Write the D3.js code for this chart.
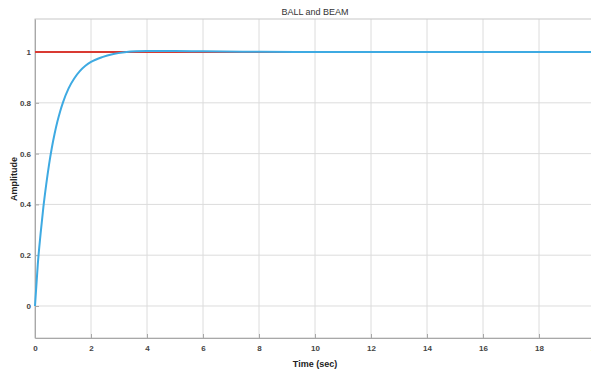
<!DOCTYPE html>
<html><head><meta charset="utf-8">
<script src="https://cdn.jsdelivr.net/npm/d3@7"></script>
<style>body{margin:0;background:#fff;overflow:hidden}svg{display:block}</style>
</head><body>
<svg id="c" width="591" height="372"></svg>
<script>
const title = "BALL and BEAM";
const xLabel = "Time (sec)";
const yLabel = "Amplitude";
const xTicks = [0,2,4,6,8,10,12,14,16,18,20];
const yTicks = [0,0.2,0.4,0.6,0.8,1];
const time = [0,0.1,0.2,0.3,0.4,0.5,0.6,0.7,0.8,0.9,1.0,1.2,1.4,1.6,1.8,2.0,2.4,2.8,3.2,3.6,4,5,6,8,10,12,14,16,18,20];
const response = [0,0.165,0.285,0.39,0.478,0.556,0.622,0.678,0.726,0.767,0.802,0.857,0.896,0.925,0.946,0.961,0.980,0.992,0.999,1.003,1.004,1.004,1.003,1.001,1.0,1.0,1.0,1.0,1.0,1.0];
const refTime = [0,20];
const refValue = [1,1];

const svg = d3.select("#c");
const L=35, R=595, T=19, B=338;
const x = d3.scaleLinear().domain([0,20]).range([L,R]);
const y = d3.scaleLinear().domain([-0.126,1.13]).range([B,T]);

// grid
svg.append("g").selectAll("line").data(xTicks).join("line")
  .attr("x1",d=>x(d)).attr("x2",d=>x(d)).attr("y1",T).attr("y2",B)
  .attr("stroke","#dcdcdc").attr("stroke-width",1);
svg.append("g").selectAll("line").data(yTicks).join("line")
  .attr("x1",L).attr("x2",R).attr("y1",d=>y(d)).attr("y2",d=>y(d))
  .attr("stroke","#dcdcdc").attr("stroke-width",1);

// frame
svg.append("rect").attr("x",L).attr("y",T).attr("width",R-L).attr("height",B-T)
  .attr("fill","none").attr("stroke","#c8c8c8").attr("stroke-width",1);

// axes
const fmt = d=>String(d);
const xa = svg.append("g").attr("transform",`translate(0,${B})`)
  .call(d3.axisBottom(x).tickValues(xTicks).tickSizeInner(-4).tickSizeOuter(0).tickPadding(7).tickFormat(fmt));
const ya = svg.append("g").attr("transform",`translate(${L},0)`)
  .call(d3.axisLeft(y).tickValues(yTicks).tickSizeInner(-4).tickSizeOuter(0).tickPadding(4).tickFormat(fmt));
[xa,ya].forEach(a=>{
  a.select(".domain").attr("stroke","#a8a8a8");
  a.selectAll(".tick line").attr("stroke","#a8a8a8");
  a.selectAll("text").attr("font-family","Liberation Sans, Arial, sans-serif")
   .attr("font-size","8px").attr("font-weight","bold").attr("fill","#444");
});

// lines
const line = d3.line().x(d=>x(d[0])).y(d=>y(d[1]));
svg.append("path").datum(refTime.map((t,i)=>[t,refValue[i]]))
  .attr("d",line).attr("fill","none").attr("stroke","#d93a32").attr("stroke-width",2.2);
svg.append("path").datum(time.map((t,i)=>[t,response[i]]))
  .attr("d",line.curve(d3.curveMonotoneX)).attr("fill","none").attr("stroke","#3eaae2").attr("stroke-width",2);

// labels
svg.append("text").attr("x",315).attr("y",15).attr("text-anchor","middle")
  .attr("font-family","Liberation Sans, Arial, sans-serif").attr("font-size","9px").attr("fill","#333").text(title);
svg.append("text").attr("x",315).attr("y",367).attr("text-anchor","middle")
  .attr("font-family","Liberation Sans, Arial, sans-serif").attr("font-size","9px").attr("font-weight","bold").attr("fill","#222").text(xLabel);
svg.append("text").attr("transform","translate(17,179) rotate(-90)").attr("text-anchor","middle")
  .attr("font-family","Liberation Sans, Arial, sans-serif").attr("font-size","9px").attr("font-weight","bold").attr("fill","#222").text(yLabel);
</script>
</body></html>
